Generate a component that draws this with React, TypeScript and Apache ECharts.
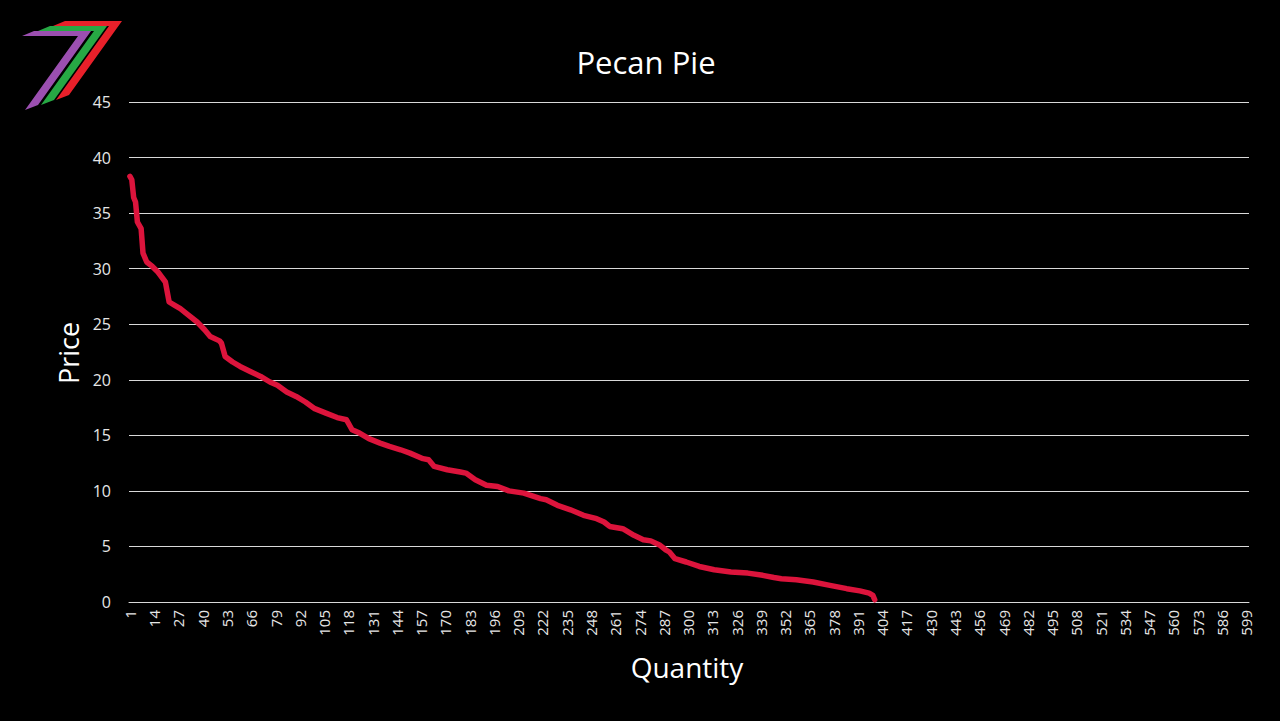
import React, { useEffect, useRef } from "react";
import * as echarts from "echarts";

// Category axis: quantities 1..600
const categories: string[] = Array.from({ length: 600 }, (_, i) => String(i + 1));

// Breakpoints (quantity, price)
const qty: number[] = [
  1, 2, 3, 4, 5, 7, 8, 10, 13, 16, 20, 22, 25, 28, 31, 37, 41, 44, 49, 50,
  52, 56, 60, 66, 71, 76, 80, 85, 90, 95, 100, 106, 112, 117, 120, 124, 129, 135, 140, 146,
  151, 158, 161, 164, 171, 178, 181, 186, 192, 198, 204, 212, 221, 224, 230, 237, 244, 251, 255, 258,
  265, 271, 276, 280, 285, 288, 290, 293, 299, 306, 314, 323, 332, 340, 346, 350, 358, 367, 376, 385,
  392, 397, 399, 400,
];
const price: number[] = [
  38.3, 38.0, 36.4, 36.0, 34.2, 33.6, 31.4, 30.6, 30.2, 29.7, 28.8, 27.0, 26.7, 26.4, 26.0, 25.2, 24.5, 23.9, 23.5, 23.3,
  22.1, 21.6, 21.2, 20.7, 20.3, 19.8, 19.5, 18.9, 18.5, 18.0, 17.4, 17.0, 16.6, 16.4, 15.5, 15.2, 14.7, 14.3, 14.0, 13.7,
  13.4, 12.9, 12.8, 12.2, 11.9, 11.7, 11.6, 11.0, 10.5, 10.4, 10.0, 9.8, 9.3, 9.2, 8.7, 8.3, 7.8, 7.5, 7.2, 6.8,
  6.6, 6.0, 5.6, 5.5, 5.1, 4.7, 4.5, 3.9, 3.6, 3.2, 2.9, 2.7, 2.6, 2.4, 2.2, 2.1, 2.0, 1.8, 1.5, 1.2,
  1.0, 0.8, 0.6, 0.2,
];

const titleText = "Pecan Pie";
const xName = "Quantity";
const yName = "Price";

const logoShape: number[][] = [
  [22, 36], [34, 31], [91, 31], [38, 105], [25, 110], [78, 36],
];
const logoLayers = [
  { dx: 31, dy: -10, color: "#e8202a" },
  { dx: 16, dy: -5, color: "#27a844" },
  { dx: 0, dy: 0, color: "#9b4fb0" },
];

export default function App() {
  const ref = useRef<HTMLDivElement>(null);
  useEffect(() => {
    if (!ref.current) return;
    const chart = echarts.init(ref.current, null, { renderer: "svg" });
    const font = "'Open Sans', 'Noto Sans', sans-serif";
    chart.setOption({
      animation: false,
      backgroundColor: "#000000",
      grid: { left: 129, right: 31, top: 102, bottom: 119, containLabel: false },
      xAxis: {
        type: "category",
        data: categories,
        boundaryGap: true,
        axisLine: { show: true, lineStyle: { color: "#d9d9d9", width: 1 } },
        axisTick: { show: false },
        axisLabel: {
          interval: 12,
          rotate: 90,
          color: "#e6e6e6",
          fontSize: 15,
          fontFamily: font,
          margin: 8,
        },
        splitLine: { show: false },
      },
      yAxis: {
        type: "value",
        min: 0,
        max: 45,
        interval: 5,
        axisLine: { show: false },
        axisTick: { show: false },
        axisLabel: { color: "#e6e6e6", fontSize: 16, fontFamily: font, margin: 18 },
        splitLine: { show: true, lineStyle: { color: "#d9d9d9", width: 1 } },
      },
      series: [
        {
          type: "line",
          data: qty.map((q, i) => [q - 1, price[i]]),
          showSymbol: false,
          symbol: "none",
          lineStyle: { color: "#dc143c", width: 5.5, join: "round", cap: "round" },
        },
      ],
      graphic: [
        {
          type: "text",
          x: 646,
          y: 62,
          style: {
            text: titleText,
            fill: "#ffffff",
            fontSize: 31,
            fontFamily: font,
            textAlign: "center",
            textVerticalAlign: "middle",
          },
        },
        {
          type: "text",
          x: 687,
          y: 667,
          style: {
            text: xName,
            fill: "#ffffff",
            fontSize: 28,
            fontFamily: font,
            textAlign: "center",
            textVerticalAlign: "middle",
          },
        },
        {
          type: "text",
          x: 68,
          y: 353,
          rotation: Math.PI / 2,
          style: {
            text: yName,
            fill: "#ffffff",
            fontSize: 27,
            fontFamily: font,
            textAlign: "center",
            textVerticalAlign: "middle",
          },
        },
        ...logoLayers.map((l) => ({
          type: "polygon",
          shape: { points: logoShape.map(([px, py]) => [px + l.dx, py + l.dy]) },
          style: { fill: l.color },
        })),
      ],
    });
    return () => chart.dispose();
  }, []);
  return (
    <div
      ref={ref}
      style={{ position: "absolute", left: 0, top: 0, width: 1280, height: 721 }}
    />
  );
}
